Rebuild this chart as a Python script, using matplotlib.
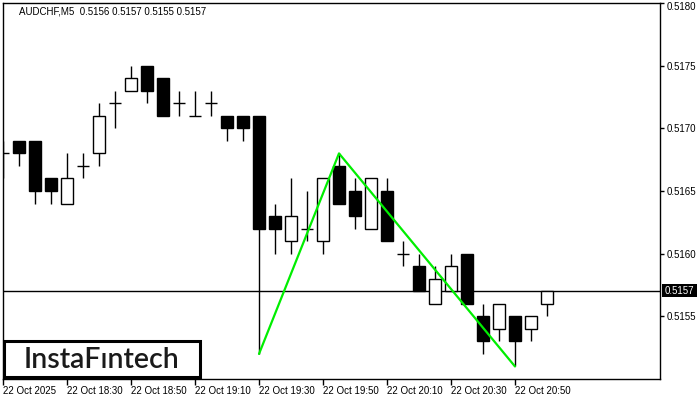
import matplotlib
matplotlib.use("Agg")
import matplotlib.pyplot as plt
from matplotlib.patches import Rectangle
import matplotlib.transforms as mtransforms
import numpy as np

symbol_title = "AUDCHF,M5  0.5156 0.5157 0.5155 0.5157"

opens = [0.5168, 0.5169, 0.5169, 0.5166, 0.5164, 0.5167, 0.5168, 0.5172, 0.5173, 0.5175,
         0.5174, 0.5172, 0.5171, 0.5172, 0.5171, 0.5171, 0.5171, 0.5163, 0.5161, 0.5162,
         0.5161, 0.5167, 0.5165, 0.5162, 0.5165, 0.5160, 0.5159, 0.5156, 0.5157, 0.5160,
         0.5155, 0.5154, 0.5155, 0.5154, 0.5156]
highs = [0.5169, 0.5169, 0.5169, 0.5166, 0.5168, 0.5168, 0.5172, 0.5173, 0.5175, 0.5175,
         0.5174, 0.5173, 0.5173, 0.5173, 0.5171, 0.5171, 0.5171, 0.5164, 0.5166, 0.5165,
         0.5166, 0.5168, 0.5166, 0.5166, 0.5166, 0.5161, 0.5160, 0.5159, 0.5160, 0.5160,
         0.5156, 0.5156, 0.5155, 0.5155, 0.5157]
lows = [0.5166, 0.5167, 0.5164, 0.5164, 0.5164, 0.5166, 0.5167, 0.5170, 0.5173, 0.5172,
        0.5171, 0.5171, 0.5171, 0.5171, 0.5169, 0.5169, 0.5152, 0.5160, 0.5160, 0.5161,
        0.5160, 0.5164, 0.5162, 0.5162, 0.5161, 0.5159, 0.5157, 0.5156, 0.5157, 0.5156,
        0.5152, 0.5153, 0.5151, 0.5153, 0.5155]
closes = [0.5168, 0.5168, 0.5165, 0.5165, 0.5166, 0.5167, 0.5171, 0.5172, 0.5174, 0.5173,
          0.5171, 0.5172, 0.5171, 0.5172, 0.5170, 0.5170, 0.5162, 0.5162, 0.5163, 0.5162,
          0.5166, 0.5164, 0.5163, 0.5166, 0.5161, 0.5160, 0.5157, 0.5158, 0.5159, 0.5156,
          0.5153, 0.5156, 0.5153, 0.5155, 0.5157]

time_tick_idx = [0, 4, 8, 12, 16, 20, 24, 28, 32]
time_tick_labels = ["22 Oct 2025", "22 Oct 18:30", "22 Oct 18:50", "22 Oct 19:10",
                    "22 Oct 19:30", "22 Oct 19:50", "22 Oct 20:10", "22 Oct 20:30",
                    "22 Oct 20:50"]
price_ticks = [0.5155, 0.5160, 0.5165, 0.5170, 0.5175, 0.5180]
price_tick_labels = ["0.5155", "0.5160", "0.5165", "0.5170", "0.5175", "0.5180"]
current_price = 0.5157

pattern_idx = [16, 21, 32]
pattern_price = [0.5152, 0.5168, 0.5151]

W, H = 700, 400
fig = plt.figure(figsize=(7, 4), dpi=100)
ax = fig.add_axes([3 / W, 1 - 379 / H, 657 / W, 376 / H])

font = "Liberation Sans"
fs = 7

x = np.arange(len(opens))
o = np.array(opens); c = np.array(closes); hi = np.array(highs); lo = np.array(lows)
bw = 0.69

ax.vlines(x, lo, hi, color="black", lw=1.0, zorder=2)
up = c > o
down = c < o
doji = c == o
ax.bar(x[up], (c - o)[up], bottom=o[up], width=bw, facecolor="white",
       edgecolor="black", lw=1.0, zorder=3)
ax.bar(x[down], (o - c)[down], bottom=c[down], width=bw, facecolor="black",
       edgecolor="black", lw=1.0, zorder=3)
ax.hlines(c[doji], x[doji] - bw / 2, x[doji] + bw / 2, color="black", lw=1.0, zorder=3)

ax.axhline(current_price, color="black", lw=1.0, zorder=1)

ax.plot(pattern_idx, pattern_price, color="#00ee00", lw=1.6, zorder=5,
        solid_capstyle="round")

ax.set_xlim(0, 657 / 16)
ax.set_ylim(0.5150, 0.5180)

ax.yaxis.tick_right()
ax.set_yticks(price_ticks)
ax.set_yticklabels(price_tick_labels, fontsize=fs, family=font)
ax.tick_params(axis="y", length=3, width=1, pad=2, direction="out", colors="black")
top_lab = ax.get_yticklabels()[-1]
top_lab.set_transform(top_lab.get_transform() +
                      mtransforms.ScaledTranslation(0, -2.5 / 100, fig.dpi_scale_trans))

ax.set_xticks(time_tick_idx)
ax.set_xticklabels(time_tick_labels, fontsize=fs, family=font)
for lab in ax.get_xticklabels():
    lab.set_horizontalalignment("left")
ax.tick_params(axis="x", length=4, width=1, pad=1, direction="out", colors="black")

for s in ax.spines.values():
    s.set_color("black")
    s.set_linewidth(1.0)

# title
fig.text(19 / W, 1 - 11 / H, symbol_title, fontsize=fs, family=font,
         va="center", ha="left", color="black")

# current price label
fig.patches.append(Rectangle((662 / W, 1 - 297 / H), 35 / W, 13 / H,
                             transform=fig.transFigure, facecolor="black",
                             edgecolor="none", zorder=10))
fig.text(665 / W, 1 - 290.5 / H, f"{current_price:.4f}", fontsize=fs, family=font,
         color="white", va="center", ha="left", zorder=11)

# logo
fig.patches.append(Rectangle((4 / W, 1 - 377 / H), 196 / W, 36 / H,
                             transform=fig.transFigure, facecolor="white",
                             edgecolor="black", lw=2.2, zorder=10))
fig.text(102 / W, 1 - 360 / H, "InstaF\u0131ntech", fontsize=20.5, family="Lato",
         weight="semibold", color="#1a1a1a", va="center", ha="center", zorder=11)

fig.savefig("out.png", dpi=100)
